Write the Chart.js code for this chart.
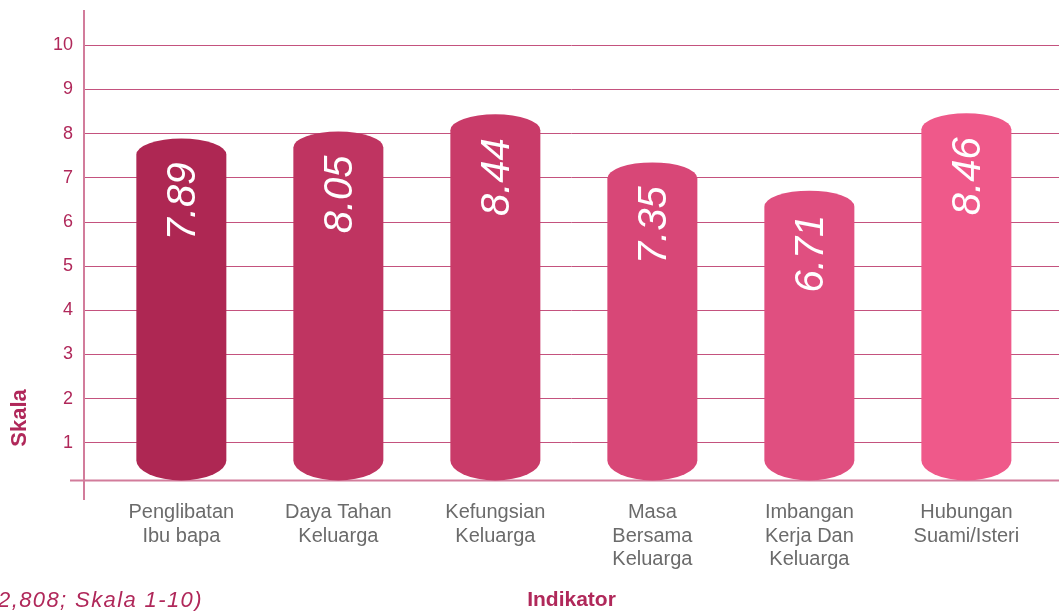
<!DOCTYPE html>
<html>
<head>
<meta charset="utf-8">
<script src="https://cdn.jsdelivr.net/npm/chart.js@4/dist/chart.umd.min.js"></script>
<style>
  html, body { margin: 0; padding: 0; background: #fff; }
  #wrap { width: 1059px; height: 611px; position: relative; }
</style>
</head>
<body>
<div id="wrap"><canvas id="chart"></canvas></div>
<script>
// data
const categories = [
  ["Penglibatan", "Ibu bapa"],
  ["Daya Tahan", "Keluarga"],
  ["Kefungsian", "Keluarga"],
  ["Masa", "Bersama", "Keluarga"],
  ["Imbangan", "Kerja Dan", "Keluarga"],
  ["Hubungan", "Suami/Isteri"]
]
const scores = [7.89, 8.05, 8.44, 7.35, 6.71, 8.46]
const barColors = ["#AE2753", "#BF3461", "#C93B69", "#D84777", "#E04F80", "#EF598A"]
const yTicks = [1, 2, 3, 4, 5, 6, 7, 8, 9, 10]
const yTitle = "Skala"
const xTitle = "Indikator"
const footNote = "2,808; Skala 1-10)"

const MAGENTA = "#B0285A"
const FONT = "'Liberation Sans', Arial, Helvetica, sans-serif"

// draws the bars as cylinders (rounded caps top and bottom) plus the value text
const cylinderBars = {
  id: "cylinderBars",
  beforeDatasetDraw(chart, args) {
    const ctx = chart.ctx
    const yScale = chart.scales.y
    const floor = yScale.getPixelForValue(0.15)
    args.meta.data.forEach((el, i) => {
      const p = el.getProps(["x", "y", "width"], true)
      const rx = p.width / 2
      const left = p.x - rx, right = p.x + rx
      const ryTop = 16, ryBot = 20
      ctx.save()
      ctx.fillStyle = barColors[i]
      ctx.beginPath()
      ctx.moveTo(left, p.y + ryTop)
      ctx.ellipse(p.x, p.y + ryTop, rx, ryTop, 0, Math.PI, 2 * Math.PI)
      ctx.lineTo(right, floor - ryBot)
      ctx.ellipse(p.x, floor - ryBot, rx, ryBot, 0, 0, Math.PI)
      ctx.closePath()
      ctx.fill()

      // value, rotated, reading bottom to top
      ctx.translate(p.x + 3, p.y + 24)
      ctx.rotate(-Math.PI / 2)
      ctx.fillStyle = "#fff"
      ctx.font = "italic 40px " + FONT
      ctx.textAlign = "right"
      ctx.textBaseline = "middle"
      ctx.fillText(scores[i].toFixed(2), 0, 0)
      ctx.restore()
    })
    return false
  }
}

// axis lines, y title and the cut-off footnote
const decor = {
  id: "decor",
  beforeDatasetsDraw(chart) {
    const ctx = chart.ctx
    const area = chart.chartArea
    const yScale = chart.scales.y
    const baseY = yScale.getPixelForValue(0.15)
    ctx.save()
    ctx.strokeStyle = "#D27C9B"
    ctx.lineWidth = 2
    ctx.beginPath()
    ctx.moveTo(area.left, area.top)
    ctx.lineTo(area.left, area.bottom + 13)
    ctx.stroke()
    ctx.beginPath()
    ctx.moveTo(area.left - 14, baseY)
    ctx.lineTo(area.right, baseY)
    ctx.stroke()
    ctx.restore()
  },
  afterDraw(chart) {
    const ctx = chart.ctx
    ctx.save()
    ctx.fillStyle = MAGENTA
    ctx.font = "bold 22px " + FONT
    ctx.textAlign = "center"
    ctx.textBaseline = "middle"
    ctx.translate(20, 418)
    ctx.rotate(-Math.PI / 2)
    ctx.fillText(yTitle, 0, 0)
    ctx.restore()

    ctx.save()
    ctx.fillStyle = MAGENTA
    ctx.font = "italic 22px " + FONT
    ctx.letterSpacing = "1.4px"
    ctx.textAlign = "left"
    ctx.textBaseline = "alphabetic"
    ctx.fillText(footNote, -2, 607)
    ctx.restore()
  }
}

const ctx = document.getElementById("chart")

new Chart(ctx, {
  type: "bar",
  data: {
    datasets: [{
      label: "Skala",
      data: scores.map((v, i) => ({ x: i, y: v })),
      backgroundColor: barColors,
      barThickness: 90
    }]
  },
  options: {
    responsive: true,
    maintainAspectRatio: false,
    animation: false,
    layout: { padding: { top: 10, right: 0, left: 0, bottom: 0 } },
    plugins: {
      legend: { display: false },
      tooltip: { enabled: false }
    },
    scales: {
      x: {
        type: "linear",
        offset: false,
        bounds: "data",
        min: -0.62,
        max: 5.59,
        afterBuildTicks: (scale) => { scale.ticks = categories.map((c, i) => ({ value: i })) },
        afterFit: (scale) => { scale.height = 124 },
        grid: { display: false, drawTicks: false, offset: false },
        border: { display: false },
        ticks: {
          autoSkip: false,
          maxRotation: 0,
          padding: 14,
          color: "#6B6B6B",
          font: { family: FONT, size: 20, lineHeight: 1.17 },
          callback: (value) => categories[value]
        },
        title: {
          display: true,
          text: xTitle,
          color: MAGENTA,
          font: { family: FONT, size: 21, weight: "bold" },
          padding: { top: 0, bottom: -2 }
        }
      },
      y: {
        min: 0,
        max: 10.8,
        afterBuildTicks: (scale) => { scale.ticks = yTicks.map(v => ({ value: v })) },
        afterFit: (scale) => {
          scale.width = 84
          scale.paddingTop = 0
          scale.paddingBottom = 0
        },
        grid: { color: "#C4527E", lineWidth: 1, drawTicks: false },
        border: { display: false },
        ticks: {
          padding: 11,
          color: MAGENTA,
          font: { family: FONT, size: 18 }
        }
      }
    }
  },
  plugins: [decor, cylinderBars]
})
</script>
</body>
</html>
